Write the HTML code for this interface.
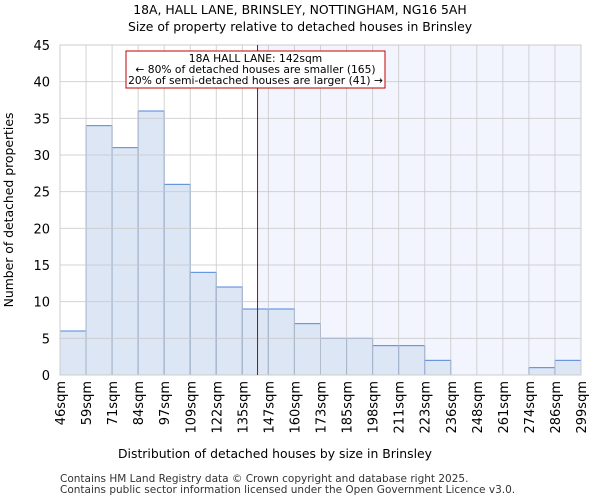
<!DOCTYPE html>
<html><head><meta charset="utf-8"><style>
body{margin:0;background:#fff;font-family:"DejaVu Sans","Liberation Sans",sans-serif;}
</style></head><body>
<svg id="c" width="600" height="500" xmlns="http://www.w3.org/2000/svg" font-family="DejaVu Sans, Liberation Sans, sans-serif">
<text x="300" y="14" text-anchor="middle" font-size="12.4">18A, HALL LANE, BRINSLEY, NOTTINGHAM, NG16 5AH</text>
<text x="300" y="31" text-anchor="middle" font-size="12.4">Size of property relative to detached houses in Brinsley</text>
<g id="plot"></g>
<text x="275" y="458" text-anchor="middle" font-size="12.4">Distribution of detached houses by size in Brinsley</text>
<text transform="translate(13,210) rotate(-90)" text-anchor="middle" font-size="12.4">Number of detached properties</text>
<text x="60" y="482" font-size="10.5" fill="#333">Contains HM Land Registry data © Crown copyright and database right 2025.</text>
<text x="60" y="493" font-size="10.5" fill="#333">Contains public sector information licensed under the Open Government Licence v3.0.</text>
</svg>
<script>
const categories=["46sqm","59sqm","71sqm","84sqm","97sqm","109sqm","122sqm","135sqm","147sqm","160sqm","173sqm","185sqm","198sqm","211sqm","223sqm","236sqm","248sqm","261sqm","274sqm","286sqm","299sqm"];
const values=[6,34,31,36,26,14,12,9,9,7,5,5,4,4,2,0,0,0,1,2];
const yTicks=[0,5,10,15,20,25,30,35,40,45];
const marker=142;
const X0=60,X1=581,Y0=375,Y1=45,YMAX=45;
const n=values.length,bw=(X1-X0)/n;
const xb=i=>X0+i*bw;
const y=v=>Y0-(v/YMAX)*(Y0-Y1);
const nums=categories.map(s=>parseFloat(s));
function xv(v){for(let i=0;i<nums.length-1;i++){if(v>=nums[i]&&v<=nums[i+1])return xb(i)+(v-nums[i])/(nums[i+1]-nums[i])*bw;}return X1;}
const NS="http://www.w3.org/2000/svg";
const g=document.getElementById('plot');
function mk(t,a){const e=document.createElementNS(NS,t);for(const k in a)e.setAttribute(k,a[k]);g.appendChild(e);return e;}
const mx=xv(marker);
let e=mk('rect',{x:mx,y:Y1,width:X1-mx,height:Y0-Y1,fill:'#f2f5fd'});


values.forEach((v,i)=>{const r=mk('rect',{x:xb(i),y:y(v),width:bw,height:Y0-y(v),fill:'#dce6f5',stroke:'#4f86d9','stroke-width':1});

});
yTicks.forEach(t=>{const l=mk('line',{x1:X0,x2:X1,y1:y(t),y2:y(t),stroke:'#c8c8c8','stroke-width':1,'stroke-opacity':0.8});


const tx=mk('text',{x:X0-10,y:y(t)+5,'text-anchor':'end','font-size':13});tx.textContent=t;

});
categories.forEach((c,i)=>{const x=xb(i);
const l=mk('line',{x1:x,x2:x,y1:Y1,y2:Y0,stroke:'#c8c8c8','stroke-width':1,'stroke-opacity':0.8});


const tx=mk('text',{transform:`translate(${x+5},${Y0+6}) rotate(-90)`,'text-anchor':'end','font-size':13});tx.textContent=c;

});
e=mk('rect',{x:X0,y:Y1,width:X1-X0,height:Y0-Y1,fill:'none',stroke:'#ccc'});


e=mk('line',{x1:mx,x2:mx,y1:Y1,y2:Y0,stroke:'#b00000','stroke-width':1});


e=mk('rect',{x:126,y:51,width:259,height:37,fill:'#fff',stroke:'#c00000','stroke-width':1});


["18A HALL LANE: 142sqm","← 80% of detached houses are smaller (165)","20% of semi-detached houses are larger (41) →"].forEach((s,i)=>{const t=mk('text',{x:255.5,y:62+i*11,'text-anchor':'middle','font-size':10.7});t.textContent=s;

});
</script>
</body></html>
